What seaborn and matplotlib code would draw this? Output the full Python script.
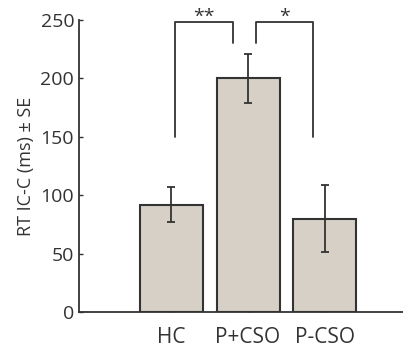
import numpy as np
import pandas as pd
import matplotlib
matplotlib.use('Agg')
import matplotlib.pyplot as plt
import seaborn as sns

# values
groups = ['HC', 'P+CSO', 'P-CSO']
rt_mean = [92, 200, 80]
rt_se = [15, 21, 29]

# significance brackets: (left x, right x, left foot, right foot, top, label)
brackets = [(0.05, 0.80, 150, 230, 248, '**'),
            (1.10, 1.85, 230, 150, 248, '*')]

sns.set_style('ticks')
plt.rcParams['font.family'] = ['Open Sans', 'DejaVu Sans']

dark = '#333333'
df = pd.DataFrame({'group': groups, 'rt': rt_mean})

fig = plt.figure(figsize=(4.03, 3.47), dpi=100)
ax = fig.add_axes([0.196, 0.101, 0.82, 0.841])

sns.barplot(data=df, x='group', y='rt', color='#d6d0c6', edgecolor=dark,
            linewidth=1.5, width=0.82, errorbar=None, saturation=1, ax=ax)
ax.errorbar(np.arange(len(groups)), rt_mean, yerr=rt_se, fmt='none',
            ecolor=dark, elinewidth=1.3, capsize=3, capthick=1.3)

for x0, x1, y0, y1, top, lab in brackets:
    ax.plot([x0, x0, x1, x1], [y0, top, top, y1], color=dark, lw=1.3,
            clip_on=False)
    ax.text((x0 + x1) / 2, top - 3, lab, ha='center', va='bottom',
            fontsize=14, color=dark, clip_on=False)

ax.set_ylim(0, 250)
ax.set_xlim(-1.2, 3.1)
ax.set_yticks([0, 50, 100, 150, 200, 250])
ax.set_xlabel('')
ax.set_ylabel('RT IC-C (ms) ± SE', fontsize=13, color=dark, labelpad=4)
ax.tick_params(direction='in', length=3, labelsize=14, colors=dark,
               width=1.0)
ax.tick_params(axis='x', labelsize=15, pad=11)
for s in ['left', 'bottom']:
    ax.spines[s].set_color(dark)
    ax.spines[s].set_linewidth(1.3)
sns.despine(ax=ax)

fig.savefig('out.png', dpi=100)
